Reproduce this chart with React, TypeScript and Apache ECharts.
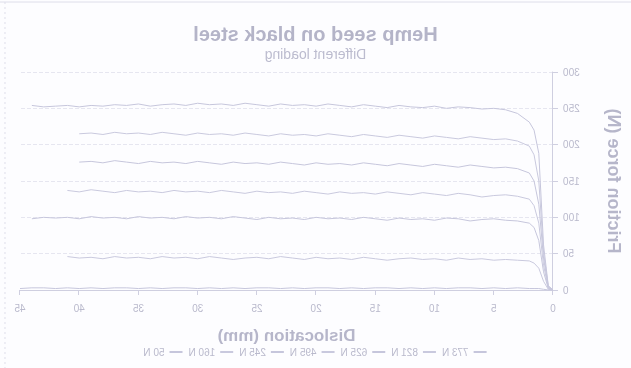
import React, { useEffect, useRef } from "react";
import * as echarts from "echarts";

// Displacement (mm), shared by all series
const X = [0, 0.4, 0.8, 1.2, 1.6, 2, 3, 4, 5, 6, 7, 8, 9, 10, 11, 12, 13, 14, 15, 16, 17, 18, 19, 20, 21, 22, 23, 24, 25, 26, 27, 28, 29, 30, 31, 32, 33, 34, 35, 36, 37, 38, 39, 40, 41, 42, 43, 44, 45];

const S773 = [0, 6, 62, 188, 220, 231, 243, 248, 250, 249, 251, 252, 250, 253, 251, 252, 254, 251, 253, 255, 252, 254, 256, 253, 255, 254, 256, 253, 255, 257, 254, 256, 255, 257, 254, 256, 255, 253, 256, 254, 255, 253, 254, 252, 254, 253, 252, 254, null];
const S821 = [0, 5, 52, 150, 186, 198, 205, 208, 207, 209, 211, 208, 210, 212, 209, 211, 213, 210, 212, 214, 211, 213, 215, 212, 214, 213, 215, 212, 214, 216, 213, 215, 214, 216, 213, 215, 217, 214, 216, 215, 217, 214, 216, 215, null, null, null, null, null];
const S625 = [0, 4, 44, 118, 150, 161, 167, 169, 168, 170, 172, 169, 171, 173, 170, 172, 174, 171, 173, 175, 172, 174, 173, 175, 172, 174, 176, 173, 175, 174, 176, 173, 175, 177, 174, 176, 175, 177, 174, 176, 178, 175, 177, 176, null, null, null, null, null];
const S495 = [0, 3, 34, 92, 116, 125, 129, 131, 130, 128, 131, 133, 130, 132, 134, 131, 133, 135, 132, 134, 133, 135, 132, 134, 136, 133, 135, 134, 136, 133, 135, 137, 134, 136, 135, 137, 134, 136, 135, 137, 134, 136, 138, 135, 137, null, null, null, null];
const S245 = [0, 2, 25, 68, 86, 92, 95, 96, 98, 97, 95, 98, 99, 96, 98, 97, 99, 96, 98, 100, 97, 99, 98, 100, 97, 99, 98, 100, 97, 99, 101, 98, 100, 99, 101, 98, 100, 99, 101, 98, 100, 99, 101, 98, 100, 99, 100, 98, null];
const S160 = [0, 1, 12, 30, 37, 40, 41, 42, 41, 43, 42, 44, 41, 43, 42, 44, 43, 41, 43, 45, 42, 44, 43, 45, 42, 44, 46, 43, 45, 44, 42, 44, 46, 43, 45, 44, 46, 43, 45, 44, 46, 43, 45, 44, 46, null, null, null, null];
const S50 = [0, 0, 1, 2, 2, 2, 3, 2, 3, 2, 3, 3, 2, 3, 2, 3, 2, 3, 3, 2, 3, 2, 3, 3, 2, 3, 2, 3, 3, 2, 3, 2, 3, 2, 3, 3, 2, 3, 2, 3, 3, 2, 3, 2, 3, 2, 3, 3, 2];

const SERIES_NAMES = ["773 N", "821 N", "625 N", "495 N", "245 N", "160 N", "50 N"];
const SERIES_VALUES = [S773, S821, S625, S495, S245, S160, S50];
const LINE_COLORS = ["#c6c6dc", "#c9c9de", "#c6c6dc", "#c9c9de", "#c6c6dc", "#c9c9de", "#c6c6dc"];

const X_TICKS = { min: 0, max: 45, interval: 5 };
const Y_TICKS = { min: 0, max: 300, interval: 50 };

const TITLE = "Hemp seed on black steel";
const SUBTITLE = "Different loading";
const X_NAME = "Dislocation (mm)";
const Y_NAME = "Friction force (N)";

export default function App() {
  const ref = useRef<HTMLDivElement>(null);
  useEffect(() => {
    if (!ref.current) return;
    const chart = echarts.init(ref.current, null, { renderer: "svg" });
    const textColor = "#b9b9cc";
    const axisColor = "#cfcfe0";
    chart.setOption({
      animation: false,
      backgroundColor: "#fdfdff",
      textStyle: { fontFamily: "Liberation Sans" },
      title: {
        text: TITLE,
        subtext: SUBTITLE,
        left: "center",
        top: 19,
        itemGap: 3,
        textStyle: { fontSize: 20, fontWeight: "bold", color: "#b4b4c8", fontFamily: "Liberation Sans" },
        subtextStyle: { fontSize: 14, color: "#bcbccf", fontFamily: "Liberation Sans" },
      },
      legend: {
        bottom: 6,
        left: "center",
        itemWidth: 13,
        itemHeight: 8,
        itemGap: 5,
        itemStyle: { opacity: 0 },
        textStyle: { fontSize: 10, color: textColor, fontFamily: "Liberation Sans" },
        data: SERIES_NAMES,
      },
      grid: { left: 69, right: 20, top: 72, bottom: 78 },
      graphic: [
        { type: "line", shape: { x1: 0, y1: 2, x2: 631, y2: 2 }, style: { stroke: "#dedeea", lineWidth: 1 } },
        { type: "line", shape: { x1: 626, y1: 2, x2: 626, y2: 368 }, style: { stroke: "#dedeea", lineWidth: 1, lineDash: [2, 3] } },
      ],
      xAxis: {
        type: "value",
        min: X_TICKS.min,
        max: X_TICKS.max,
        interval: X_TICKS.interval,
        name: X_NAME,
        nameLocation: "middle",
        nameGap: 37,
        nameTextStyle: { fontSize: 17, fontWeight: "bold", color: "#b6b6ca", fontFamily: "Liberation Sans" },
        axisLine: { lineStyle: { color: axisColor } },
        axisTick: { show: true, lineStyle: { color: axisColor } },
        axisLabel: { fontSize: 10, color: textColor, margin: 13 },
        splitLine: { show: false },
      },
      yAxis: {
        type: "value",
        min: Y_TICKS.min,
        max: Y_TICKS.max,
        interval: Y_TICKS.interval,
        name: Y_NAME,
        nameLocation: "middle",
        nameGap: 52,
        nameTextStyle: { fontSize: 18, fontWeight: "bold", color: "#b6b6ca", fontFamily: "Liberation Sans" },
        axisLine: { show: true, lineStyle: { color: axisColor } },
        axisTick: { show: true, lineStyle: { color: axisColor } },
        axisLabel: { fontSize: 10, color: textColor, margin: 10 },
        splitLine: { show: true, lineStyle: { color: "#e6e6f0", type: "dashed" } },
      },
      series: SERIES_NAMES.map((name, k) => ({
        name,
        type: "line",
        symbol: "none",
        data: X.map((x, i) => [x, SERIES_VALUES[k][i]]).filter((p) => p[1] !== null),
        lineStyle: { width: 1, color: LINE_COLORS[k] },
        itemStyle: { color: LINE_COLORS[k] },
      })),
    });
    return () => chart.dispose();
  }, []);
  return (
    <div
      ref={ref}
      style={{
        position: "fixed",
        left: 0,
        top: 0,
        width: 631,
        height: 368,
        transform: "scaleX(-1)",
      }}
    />
  );
}
